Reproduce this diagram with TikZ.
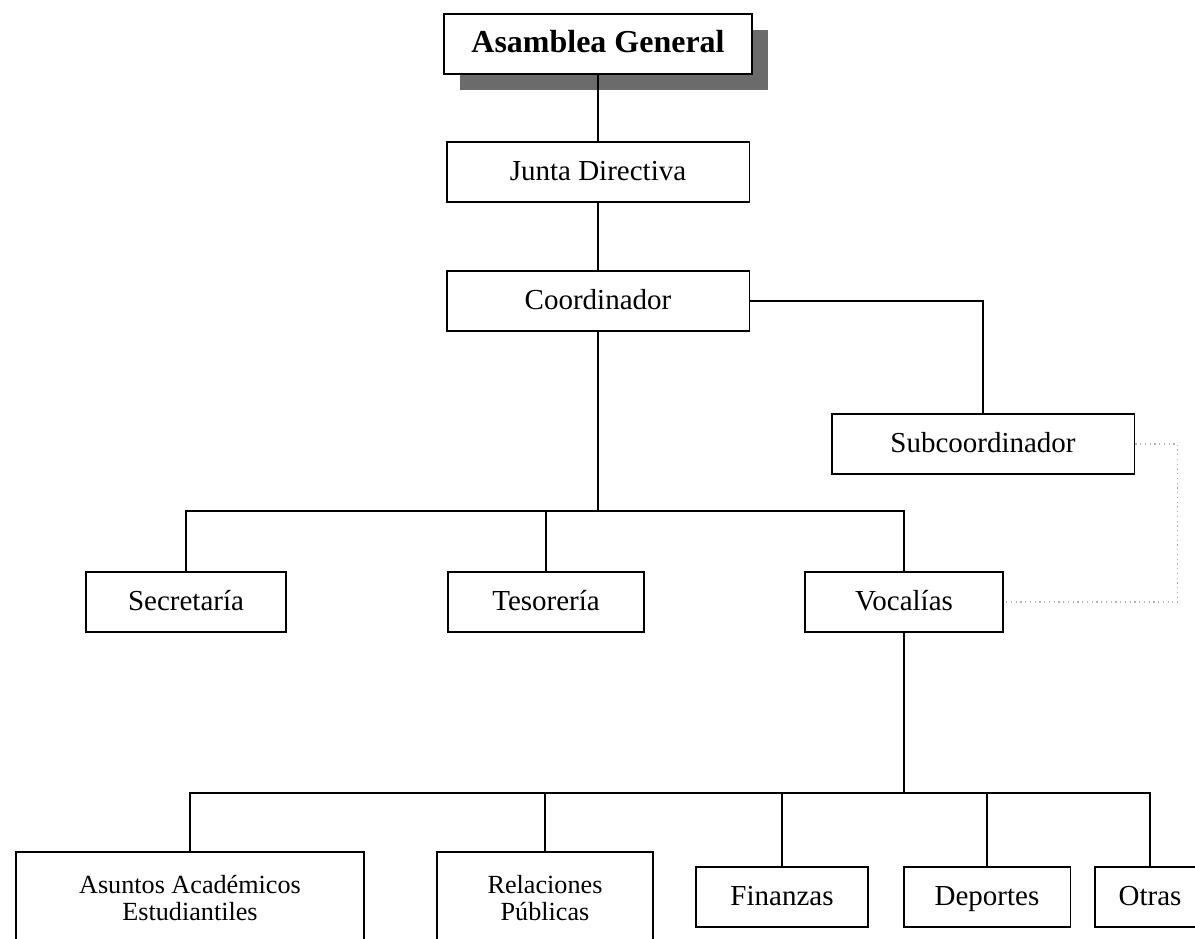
\documentclass[tikz,border=0pt]{standalone}
\usepackage{fontspec}
\setmainfont{Liberation Serif}
\usetikzlibrary{shadows}

\begin{document}
\begin{tikzpicture}[x=0.02cm,y=-0.02cm,line width=1.1pt,
	marco/.style={draw,fill=white,inner sep=2pt},
	caja/.style={marco,minimum height=1.2cm,text height=14pt,text depth=4pt,font=\fontsize{16.5}{19}\selectfont},
	caja2/.style={marco,minimum height=1.84cm,align=center,font=\fontsize{14.9}{15.9}\selectfont},
	tenue/.style={gray!60,line width=0.7pt,dotted}]
			\clip (0,0) rectangle (1195,938);
			\node [caja,minimum width=6.16cm,font=\fontsize{18.2}{21}\selectfont\bfseries,drop shadow={shadow xshift=0.32cm,shadow yshift=-0.32cm,fill=black!58,opacity=1}] (asamblea) at (598,44) {Asamblea General};
			\node [caja,minimum width=6.06cm] (junta) at (598,172) {Junta Directiva};
			\node [caja,minimum width=6.06cm] (coord) at (598,301) {Coordinador};
			\node [caja,minimum width=6.06cm] (subcoord) at (983,444) {Subcoordinador};
			\node [caja,minimum width=4cm] (secre) at (186,602) {Secretaría};
			\node [caja,minimum width=3.92cm] (teso) at (546,602) {Tesorería};
			\node [caja,minimum width=3.96cm] (voca) at (904,602) {Vocalías};
			\node [caja2,minimum width=6.96cm] (asuntos) at (190,898) {Asuntos Académicos\\Estudiantiles};
			\node [caja2,minimum width=4.32cm] (relac) at (545,898) {Relaciones\\Públicas};
			\node [caja,minimum width=3.44cm] (finan) at (782,897) {Finanzas};
			\node [caja,minimum width=3.34cm] (deport) at (987,897) {Deportes};
			\node [caja,minimum width=2.2cm] (otras) at (1150,897) {Otras};
			\coordinate (bus1) at (598,511);
			\coordinate (bus2) at (904,793);
			\draw (asamblea) -- (junta) -- (coord) -- (bus1);
			\draw (coord.east) -| (subcoord.north);
			\draw (secre.north) |- (bus1) -| (voca.north);
			\draw (teso.north) -- (teso.north |- bus1);
			\draw (voca) -- (bus2);
			\draw (asuntos.north) |- (bus2) -| (otras.north);
			\foreach \n in {relac,finan,deport}
				\draw (\n.north) -- (\n.north |- bus2);
			\draw [tenue] (subcoord.east) -- ++(42,0) |- (voca.east);
			\end{tikzpicture}
\end{document}
